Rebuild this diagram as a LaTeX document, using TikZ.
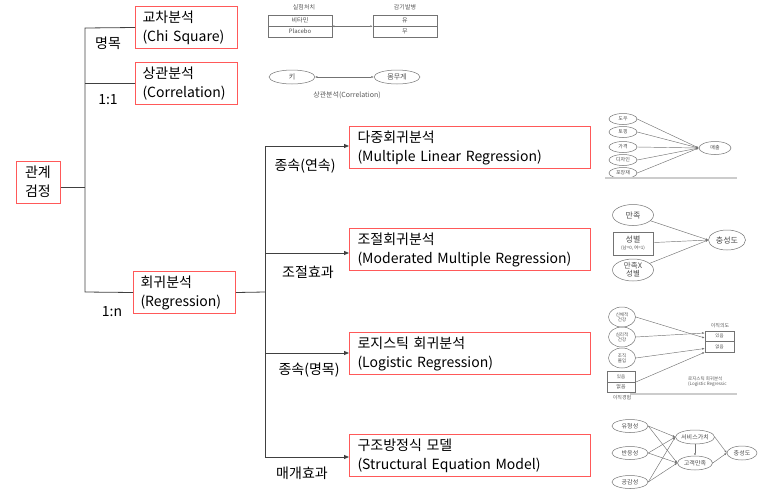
\documentclass[tikz,border=0pt]{standalone}
\usepackage{fontspec}
\setmainfont{Noto Sans CJK KR}
\usepackage{tikz}
\usetikzlibrary{arrows.meta}
\usetikzlibrary{shapes}

\begin{document}
\begin{tikzpicture}[x=1pt,y=-1pt,
    every node/.style={inner sep=0pt,font=\fontsize{14}{19}\selectfont},
    redbox/.style={draw=red!65,line width=1pt,anchor=north west,align=left,minimum height=42pt},
    bigbox/.style={redbox,text width=225pt,inner xsep=8pt},
    smallbox/.style={redbox,text width=88pt,inner xsep=7pt},
    line/.style={draw=black!75,line width=0.8pt},
    arr/.style={line,-{Triangle[length=5pt,width=4pt]}},
    tiny/.style={text=black!65,font=\fontsize{#1}{#1}\selectfont},
    oval/.style={ellipse,draw=black!55,line width=0.5pt,text=black!70,align=center},
    cell/.style={rectangle,draw=black!55,line width=0.5pt,text=black!70,align=center},
    thin/.style={draw=black!55,line width=0.45pt,-{Latex[length=2.5pt,width=2pt]}},
    sep/.style={draw=black!20,line width=1.5pt}]
  \useasboundingbox (0,0) rectangle (773,498);
  %%% tree
  % the root
  \node[draw=red!65,line width=1pt,minimum width=44pt,minimum height=42pt,align=center] (root) at (38,182) {관계\\검정};
  % first level
  \node[smallbox] (chi) at (135,6) {교차분석\\(Chi Square)};
  \node[smallbox] (corr) at (135,62) {상관분석\\(Correlation)};
  \node[smallbox] (reg) at (133,271) {회귀분석\\(Regression)};
  \coordinate (t0) at (85,187);
  \coordinate (t1) at (85,28);
  \coordinate (t3) at (85,292);
  \draw[line] (root.east |- t0) -- (t0);
  \draw[line] (chi.west) -- (t1) -- (t3) -- (reg.west);
  \draw[line] (corr.west) -- (corr.west -| t1);
  \node (l1) at (108,43) {명목};
  \node (l2) at (108,100) {1:1};
  \node (l3) at (112,312) {1:n};
  % second level
  \node[bigbox] (mlr) at (349,126) {다중회귀분석\\(Multiple Linear Regression)};
  \node[bigbox] (mmr) at (349,228) {조절회귀분석\\(Moderated Multiple Regression)};
  \node[bigbox] (logit) at (349,332) {로지스틱 회귀분석\\(Logistic Regression)};
  \node[bigbox] (sem) at (349,434) {구조방정식 모델\\(Structural Equation Model)};
  \coordinate (s0) at (265,292);
  \coordinate (s1) at (265,146);
  \coordinate (s2) at (265,253);
  \coordinate (s3) at (265,353);
  \coordinate (s4) at (265,457);
  \draw[line] (reg.east) -- (s0);
  \draw[line] (s1) -- (s4);
  \draw[arr] (s1) -- (mlr.west |- s1);
  \draw[arr] (s2) -- (mmr.west |- s2);
  \draw[arr] (s3) -- (logit.west |- s3);
  \draw[arr] (s4) -- (sem.west |- s4);
  \node (d1) at (305,166) {종속(연속)};
  \node (d2) at (308,272) {조절효과};
  \node (d3) at (309,370) {종속(명목)};
  \node (d4) at (302,473) {매개효과};

  %%% chi square sketch
  \node[tiny=6] (hA) at (304,7) {실험처치};
  \node[tiny=6] (hB) at (405,7) {감기발병};
  \foreach \n/\t/\y in {vit/비타민/20.5,plc/Placebo/31.5}
    \node[cell,minimum width=64pt,minimum height=11pt,font=\fontsize{6}{6}\selectfont] (\n) at (300,\y) {\t};
  \foreach \n/\t/\y in {yes/유/20.5,no/무/31.5}
    \node[cell,minimum width=64pt,minimum height=11pt,font=\fontsize{6}{6}\selectfont] (\n) at (405,\y) {\t};
  \draw[thin,{Latex[length=2pt,width=2pt]}-{Latex[length=2.5pt,width=2pt]}] (vit.south east) -- (yes.south west);

  %%% correlation sketch
  \node[oval,minimum width=46pt,minimum height=14pt,font=\fontsize{7}{7}\selectfont] (tall) at (292,77) {키};
  \node[oval,minimum width=46pt,minimum height=14pt,font=\fontsize{7}{7}\selectfont] (wt) at (397,77) {몸무게};
  \draw[thin,{Latex[length=2pt,width=2pt]}-{Latex[length=2.5pt,width=2pt]}] (tall) -- (wt);
  \node[tiny=7] (capC) at (347,95) {상관분석(Correlation)};

  %%% multiple regression sketch
  \foreach \n/\t/\y in {a/도우/119,b/토핑/132,c/가격/147,d/디자인/160,e/포장재/173}
  {
    \node[oval,minimum width=28pt,minimum height=11pt,font=\fontsize{5}{5}\selectfont] (m\n) at (623,\y) {\t};
  }
  \node[oval,minimum width=32pt,minimum height=13pt,font=\fontsize{5}{5}\selectfont] (sale) at (715,148) {매출};
  \foreach \n in {a,b,c,d,e}
    \draw[thin] (m\n.east) -- (sale.west);
  \draw[sep] (605,178) -- (737,178);

  %%% moderated regression sketch
  \node[oval,minimum width=41pt,minimum height=21pt,font=\fontsize{8}{8}\selectfont] (sat) at (633,215) {만족};
  \node[cell,minimum width=40pt,minimum height=23pt,font=\fontsize{8}{8}\selectfont] (sex) at (633,243.5) {성별\\[-1pt]{\fontsize{4.5}{5}\selectfont(남=0, 여=1)}};
  \node[oval,minimum width=41pt,minimum height=22pt,font=\fontsize{7.5}{8}\selectfont] (satx) at (633,270) {만족X\\성별};
  \node[oval,minimum width=37pt,minimum height=20pt,font=\fontsize{8}{8}\selectfont] (loyal) at (727,240) {충성도};
  \foreach \n in {sat,sex,satx}
    \draw[thin] (\n) -- (loyal.west);

  %%% logistic regression sketch
  \foreach \n/\t/\y in {body/신체적\\건강/317,mind/심리적\\건강/337,org/조직\\몰입/358}
  {
    \node[oval,minimum width=27pt,minimum height=20pt,font=\fontsize{4.5}{5}\selectfont] (\n) at (622,\y) {\t};
  }
  \node[cell,minimum width=28pt,minimum height=11pt,font=\fontsize{4.5}{5}\selectfont] (exA) at (621,376.5) {있음};
  \node[cell,minimum width=28pt,minimum height=10pt,font=\fontsize{5}{5}\selectfont] (exB) at (621,387) {없음};
  \node[tiny=5] (exH) at (622,398) {이직경험};
  \node[cell,minimum width=29pt,minimum height=10pt,font=\fontsize{4.5}{5}\selectfont] (inA) at (719.5,336) {있음};
  \node[cell,minimum width=29pt,minimum height=11pt,font=\fontsize{4.5}{5}\selectfont] (inB) at (719.5,346.5) {없음};
  \node[tiny=5] (inH) at (720,326) {이직의도};
  \draw[thin] (body.east) -- ([yshift=-2pt]inA.west);
  \draw[thin] (mind.east) -- ([yshift=3pt]inA.west);
  \draw[thin] (org.east) -- ([yshift=-2pt]inB.west);
  \draw[thin] (exA.south east) -- (inB.south west);
  \node[tiny=4.5,align=left,anchor=west] (capL) at (688,381.5) {로지스틱 회귀분석\\(Logistic Regressic};
  \draw[sep] (630,394) -- (737,394);

  %%% structural equation sketch
  \foreach \n/\t/\y in {tang/유형성/426,resp/반응성/453,emp/공감성/482}
  {
    \node[oval,minimum width=36pt,minimum height=13pt,font=\fontsize{6}{6}\selectfont] (\n) at (630,\y) {\t};
  }
  \node[oval,minimum width=37pt,minimum height=14pt,font=\fontsize{6}{6}\selectfont] (val) at (695,437) {서비스가치};
  \node[oval,minimum width=35pt,minimum height=14pt,font=\fontsize{6}{6}\selectfont] (cs) at (695,463) {고객만족};
  \node[oval,minimum width=30pt,minimum height=14pt,font=\fontsize{6}{6}\selectfont] (loy) at (742,453) {충성도};
  \foreach \n in {tang,resp,emp}
  {
    \draw[thin] (\n.east) -- (val.west);
    \draw[thin] (\n.east) -- (cs.west);
  }
  \draw[thin] (val) -- (cs);
  \draw[thin] (val.east) -- (loy.west);
  \draw[thin] (cs.east) -- (loy.west);
\end{tikzpicture}
\end{document}
